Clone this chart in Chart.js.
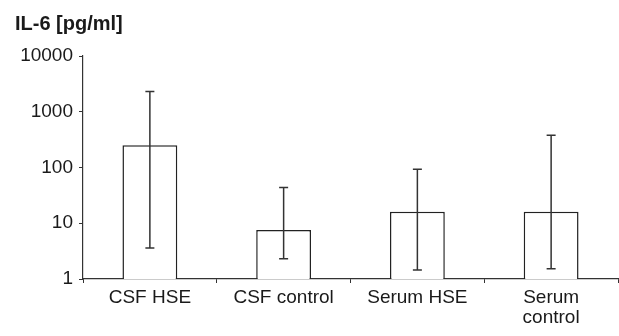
<!DOCTYPE html>
<html>
<head>
<meta charset="utf-8">
<script src="https://cdn.jsdelivr.net/npm/chart.js@4/dist/chart.umd.min.js"></script>
<style>
html,body{margin:0;padding:0;background:#fff;}
#wrap{width:619px;height:336px;position:relative;}
</style>
</head>
<body>
<div id="wrap"><canvas id="c" width="619" height="336"></canvas></div>
<script>
const categories = ["CSF HSE", "CSF control", "Serum HSE", ["Serum", "control"]];
const means = [250, 7.6, 16, 16];
const errLow = [3.6, 2.3, 1.45, 1.53];
const errHigh = [2300, 44, 93, 380];
const yTicks = [1, 10, 100, 1000, 10000];
const titleText = "IL-6 [pg/ml]";

const errorBars = {
  id: 'errorBars',
  afterDatasetsDraw(chart) {
    const ctx = chart.ctx;
    const meta = chart.getDatasetMeta(0);
    const ys = chart.scales.y;
    ctx.save();
    ctx.strokeStyle = '#333';
    ctx.lineWidth = 1.5;
    meta.data.forEach((bar, i) => {
      const x = bar.x;
      const yl = ys.getPixelForValue(errLow[i]);
      const yh = ys.getPixelForValue(errHigh[i]);
      const cap = 4.5;
      ctx.beginPath();
      ctx.moveTo(x, yl); ctx.lineTo(x, yh);
      ctx.moveTo(x - cap, yl); ctx.lineTo(x + cap, yl);
      ctx.moveTo(x - cap, yh); ctx.lineTo(x + cap, yh);
      ctx.stroke();
    });
    ctx.restore();
  }
};

new Chart(document.getElementById('c'), {
  type: 'bar',
  data: {
    labels: categories,
    datasets: [{
      data: means,
      backgroundColor: '#ffffff',
      borderColor: '#222',
      borderWidth: 1.5,
      categoryPercentage: 1,
      barPercentage: 0.41
    }]
  },
  options: {
    responsive: false,
    animation: false,
    devicePixelRatio: 1,
    layout: { padding: { left: 15, right: 1, top: 0, bottom: 0 } },
    plugins: {
      legend: { display: false },
      tooltip: { enabled: false },
      title: {
        display: true,
        text: titleText,
        align: 'start',
        color: '#1a1a1a',
        font: { family: 'Liberation Sans', size: 20, weight: 'bold', lineHeight: 1.2 },
        padding: { top: 12, bottom: 20 }
      }
    },
    scales: {
      x: {
        offset: true,
        grid: { display: true, drawOnChartArea: false, offset: true, tickLength: 4, color: '#333', lineWidth: 1 },
        border: { display: true, color: '#333', width: 1.2 },
        ticks: { color: '#1a1a1a', padding: 5, maxRotation: 0, autoSkip: false,
          font: { family: 'Liberation Sans', size: 19, lineHeight: 1.05 } },
        afterFit(s) { s.height = 57; }
      },
      y: {
        type: 'logarithmic',
        min: 1, max: 10000,
        afterBuildTicks(s) { s.ticks = yTicks.map(v => ({ value: v, major: true })); },
        grid: { display: true, drawOnChartArea: false, tickLength: 4, color: '#333', lineWidth: 1 },
        border: { display: true, color: '#333', width: 1.2 },
        ticks: { color: '#1a1a1a', padding: 6,
          font: { family: 'Liberation Sans', size: 19 },
          callback: (v) => String(v) },
        afterFit(s) { s.width = 68; }
      }
    }
  },
  plugins: [errorBars]
});
</script>
</body>
</html>
